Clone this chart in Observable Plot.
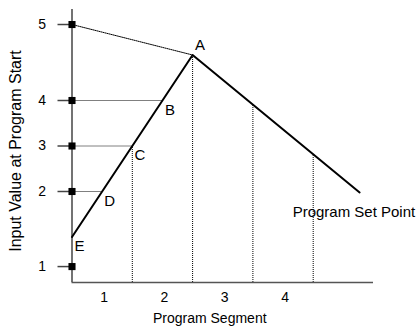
<!DOCTYPE html>
<html><head><meta charset="utf-8">
<script src="https://cdn.jsdelivr.net/npm/d3@7"></script>
<script src="https://cdn.jsdelivr.net/npm/@observablehq/plot@0.6"></script>
<style>body{margin:0;background:#fff}</style>
</head><body><div id="chart"></div>
<script>
// Program segments along x (segment i spans [i-1, i])
const segmentLabels = ["1", "2", "3", "4"];
const segmentCenters = [0.5, 1.5, 2.5, 3.5];
const segmentBoundaries = [1, 2, 3, 4];
// where each dotted boundary line meets the program curve
const boundaryTops = [2, 4, 2.89, 1.79];

// schematic y axis: tick positions and their labels
const yTickValues = [-0.65, 1, 2, 3, 4.67];
const yTickLabels = ["1", "2", "3", "4", "5"];

// the program curve: start E, peak A, program set point
const curveX = [0, 2, 4.77];
const curveY = [0, 4, 0.98];

// labelled points on the curve
const pointLetters = ["A", "B", "C", "D", "E"];
const pointX = [2, 1.5, 1, 0.5, 0];
const pointY = [4, 3, 2, 1, 0];

// dotted line from input value "5" to A
const startLineX = [0, 2];
const startLineY = [4.67, 4];

const curve = curveX.map((x, i) => ({x, y: curveY[i]}));
const points = pointLetters.map((label, i) => ({label, x: pointX[i], y: pointY[i]}));
const startLine = startLineX.map((x, i) => ({x, y: startLineY[i]}));
const labelMap = new Map(yTickValues.map((v, i) => [v, yTickLabels[i]]));
const guidePoints = points.filter(p => ["B", "C", "D"].includes(p.label));

const dot = {stroke: "#000", strokeWidth: 1, strokeDasharray: "1,1"};

const chart = Plot.plot({
  width: 418,
  height: 329,
  marginLeft: 71.5,
  marginRight: 45,
  marginTop: 9,
  marginBottom: 47,
  style: {fontFamily: "'Liberation Sans', Arial, sans-serif", color: "#000", background: "#fff"},
  x: {domain: [0, 5], axis: null},
  y: {domain: [-1, 5], axis: null},
  marks: [
    // dotted guides
    Plot.ruleY(guidePoints, {y: "y", x1: () => 0, x2: "x", ...dot}),
    Plot.ruleX(segmentBoundaries, {x: d => d, y1: () => -1, y2: (d, i) => boundaryTops[i], ...dot}),
    Plot.line(startLine, {x: "x", y: "y", ...dot}),
    // axes
    Plot.ruleX([0], {stroke: "#444", strokeWidth: 1.5}),
    Plot.ruleY([-1], {stroke: "#555", strokeWidth: 1.5}),
    Plot.axisY({ticks: yTickValues, tickFormat: d => labelMap.get(d), tickSize: 14, tickPadding: 12,
      fontSize: 14, stroke: "#444", strokeWidth: 1.5, fill: "#000", label: null}),
    Plot.dot(yTickValues, {x: () => 0, y: d => d, symbol: "square", r: 4, fill: "#000", stroke: null}),
    // program curve
    Plot.line(curve, {x: "x", y: "y", stroke: "#000", strokeWidth: 2}),
    // point labels
    Plot.text(points.filter(p => p.label === "A"), {x: "x", y: "y", text: "label", dx: 7.5, dy: -10, fontSize: 15, fill: "#000"}),
    Plot.text(points.filter(p => p.label !== "A"), {x: "x", y: "y", text: "label", dx: 7.5, dy: 9.5, fontSize: 15, fill: "#000"}),
    Plot.text([curve[2]], {x: "x", y: "y", text: () => "Program Set Point", textAnchor: "start", dx: -67, dy: 20, fontSize: 15, fill: "#000"}),
    // x tick labels
    Plot.text(segmentCenters, {x: d => d, y: () => -1, text: (d, i) => segmentLabels[i], dx: 2, dy: 15.5, fontSize: 14, fill: "#000"}),
    // axis titles
    Plot.text(["Input Value at Program Start"], {frameAnchor: "left", textAnchor: "middle", lineAnchor: "middle", rotate: -90, dx: -56.5, dy: 5, fontSize: 16, fill: "#000"}),
    Plot.text(["Program Segment"], {frameAnchor: "bottom", textAnchor: "middle", lineAnchor: "middle", dx: -13, dy: 36, fontSize: 14, fill: "#000"})
  ]
});
document.getElementById("chart").appendChild(chart);
</script>
</body></html>
